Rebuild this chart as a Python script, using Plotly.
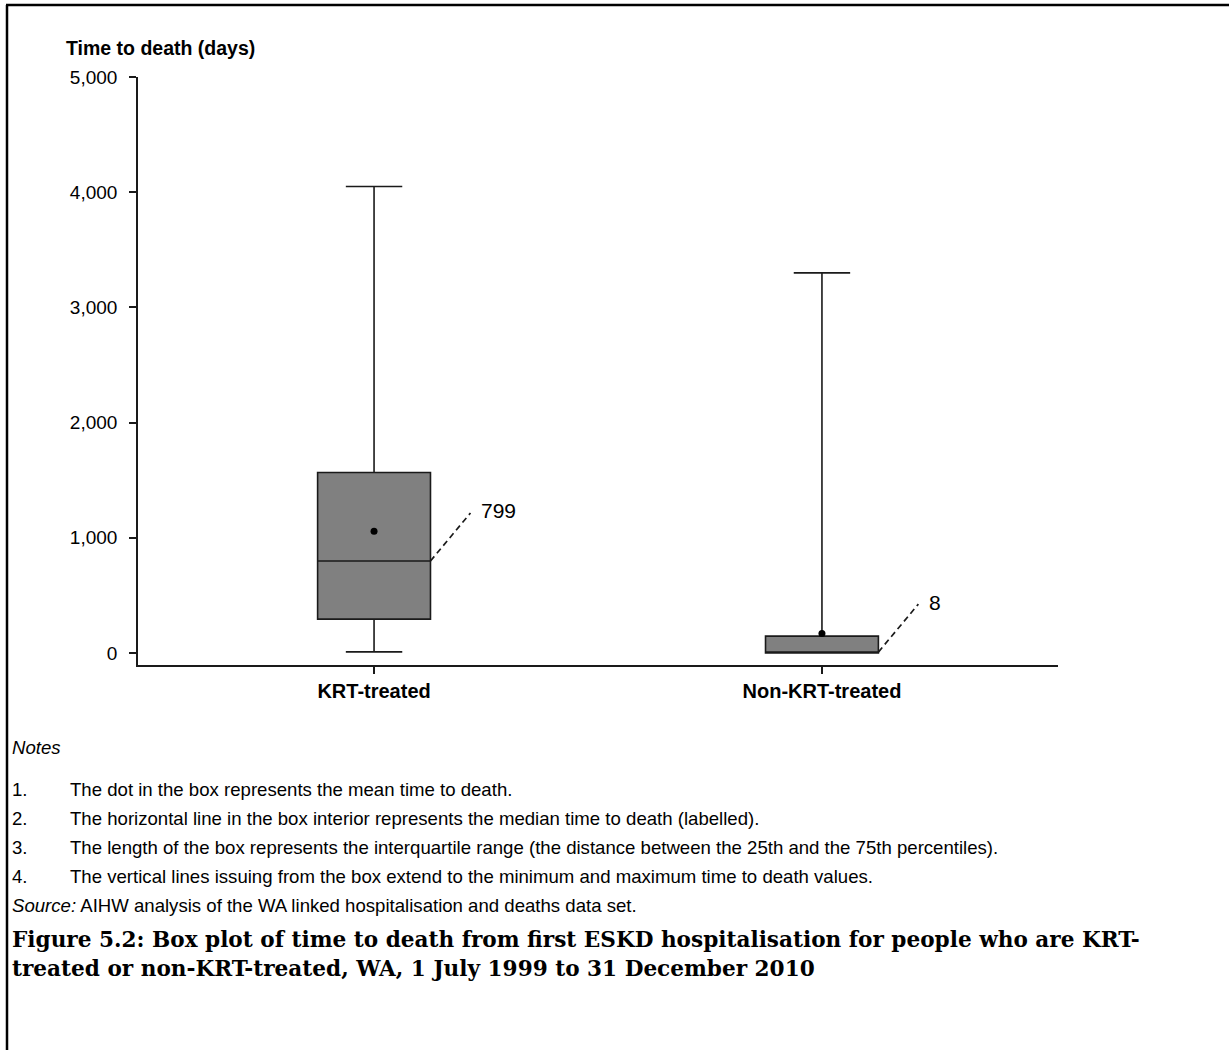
import plotly.graph_objects as go

# Summary statistics of time to death (days) by treatment group
groups = ["KRT-treated", "Non-KRT-treated"]
minimum = [10, 0]
q1 = [294, 0]
median = [799, 8]
q3 = [1567, 147]
maximum = [4050, 3300]
mean = [1056, 170]

y_ticks = [0, 1000, 2000, 3000, 4000, 5000]

notes = [
    "The dot in the box represents the mean time to death.",
    "The horizontal line in the box interior represents the median time to death (labelled).",
    "The length of the box represents the interquartile range (the distance between the 25th and the 75th percentiles).",
    "The vertical lines issuing from the box extend to the minimum and maximum time to death values.",
]
source_text = "<i>Source:</i> AIHW analysis of the WA linked hospitalisation and deaths data set."
caption_lines = [
    "Figure 5.2: Box plot of time to death from first ESKD hospitalisation for people who are KRT-",
    "treated or non-KRT-treated, WA, 1 July 1999 to 31 December 2010",
]

W, H = 1229, 1050
INK = "#1a1a1a"
SANS = "Liberation Sans, Arial, sans-serif"
BOX_W = 0.252
NOTE_SIZE = 18.6


def px_x(p):
    return p / W


def px_y(p):
    return 1 - p / H


fig = go.Figure()

fig.add_trace(go.Box(
    x=groups,
    q1=q1, median=median, q3=q3,
    lowerfence=minimum, upperfence=maximum,
    width=BOX_W,
    whiskerwidth=0.5,
    fillcolor="#808080",
    line=dict(color=INK, width=1.6),
    boxpoints=False,
    hoverinfo="skip",
    showlegend=False,
))

fig.add_trace(go.Scatter(
    x=groups, y=mean, mode="markers",
    marker=dict(color="black", size=7),
    showlegend=False, hoverinfo="skip",
))

shapes = []
annotations = []

# Dashed leaders from each median to its value label
for i, g in enumerate(groups):
    dx, dy = 40, 48
    shapes.append(dict(
        type="line", xref="x", yref="y",
        xsizemode="pixel", ysizemode="pixel",
        xanchor=i + BOX_W / 2, yanchor=median[i],
        x0=0, x1=dx, y0=0, y1=dy,
        line=dict(color=INK, width=1.7, dash="6px,4px"),
    ))
    annotations.append(dict(
        x=i + BOX_W / 2, y=median[i], xref="x", yref="y",
        text=f"{median[i]:,}", showarrow=False,
        xanchor="left", yanchor="middle",
        xshift=dx + 9, yshift=dy + 2,
        font=dict(family=SANS, size=21, color="black"),
    ))

# Axis title
annotations.append(dict(
    x=px_x(64), y=px_y(48), xref="paper", yref="paper",
    text="<b>Time to death (days)</b>", showarrow=False,
    xanchor="left", yanchor="middle",
    font=dict(family=SANS, size=19.5, color="black"),
))

# Notes block
annotations.append(dict(
    x=px_x(10), y=px_y(747), xref="paper", yref="paper",
    text="<i>Notes</i>", showarrow=False, xanchor="left", yanchor="middle",
    font=dict(family=SANS, size=NOTE_SIZE, color="black"),
))
note_y = [789, 818, 847, 876]
for k, (txt, yy) in enumerate(zip(notes, note_y)):
    annotations.append(dict(
        x=px_x(10), y=px_y(yy), xref="paper", yref="paper",
        text=f"{k + 1}.", showarrow=False, xanchor="left", yanchor="middle",
        font=dict(family=SANS, size=NOTE_SIZE, color="black"),
    ))
    annotations.append(dict(
        x=px_x(68), y=px_y(yy), xref="paper", yref="paper",
        text=txt, showarrow=False, xanchor="left", yanchor="middle",
        font=dict(family=SANS, size=NOTE_SIZE, color="black"),
    ))
annotations.append(dict(
    x=px_x(10), y=px_y(905), xref="paper", yref="paper",
    text=source_text, showarrow=False, xanchor="left", yanchor="middle",
    font=dict(family=SANS, size=NOTE_SIZE, color="black"),
))
for line, yy in zip(caption_lines, [939, 968]):
    annotations.append(dict(
        x=px_x(10), y=px_y(yy), xref="paper", yref="paper",
        text=f"<b>{line}</b>", showarrow=False, xanchor="left", yanchor="middle",
        font=dict(family="DejaVu Serif, serif", size=21.6, color="black"),
    ))

# Page frame (top and left rules)
shapes.append(dict(type="line", xref="paper", yref="paper",
                   x0=px_x(6), x1=1, y0=px_y(5), y1=px_y(5),
                   line=dict(color="black", width=2.5)))
shapes.append(dict(type="line", xref="paper", yref="paper",
                   x0=px_x(7), x1=px_x(7), y0=px_y(5), y1=0,
                   line=dict(color="black", width=2.5)))

fig.update_layout(
    width=W, height=H,
    margin=dict(l=0, r=0, t=0, b=0, autoexpand=False),
    paper_bgcolor="white", plot_bgcolor="white",
    shapes=shapes, annotations=annotations,
    showlegend=False,
    xaxis=dict(
        domain=[px_x(138), px_x(1058)],
        type="category",
        range=[-0.527, 1.527],
        automargin=False,
        showline=True, linecolor=INK, linewidth=1.6,
        ticks="outside", ticklen=7, tickcolor=INK, tickwidth=1.6,
        showgrid=False, zeroline=False,
        tickvals=groups,
        ticktext=[f"<b>{g}</b>" for g in groups],
        tickfont=dict(family=SANS, size=20, color="black"),
    ),
    yaxis=dict(
        domain=[px_y(665), px_y(77)],
        range=[-104, 5000],
        automargin=False,
        showline=True, linecolor=INK, linewidth=1.6,
        ticks="outside", ticklen=7, tickcolor=INK, tickwidth=1.6,
        ticklabelstandoff=8,
        showgrid=False, zeroline=False,
        tickvals=y_ticks, tickformat=",d",
        tickfont=dict(family=SANS, size=19, color="black"),
    ),
)

fig.write_html("out.html")
